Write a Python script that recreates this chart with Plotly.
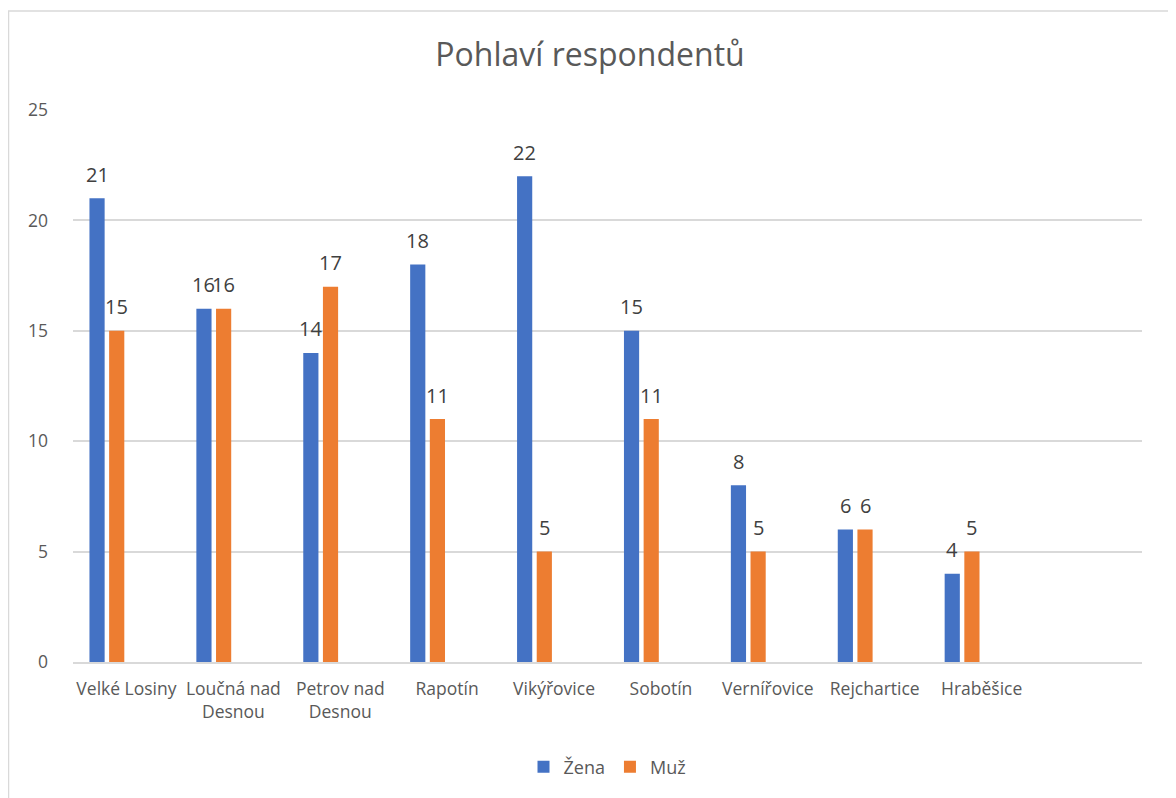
import plotly.graph_objects as go

CATEGORIES = [
    "Velké Losiny",
    "Loučná nad<br>Desnou",
    "Petrov nad<br>Desnou",
    "Rapotín",
    "Vikýřovice",
    "Sobotín",
    "Vernířovice",
    "Rejchartice",
    "Hraběšice",
]
ZENA = [21, 16, 14, 18, 22, 15, 8, 6, 4]
MUZ = [15, 16, 17, 11, 5, 11, 5, 6, 5]

BLUE = "#4472C4"
ORANGE = "#ED7D31"
GREY_TEXT = "#595959"
LABEL_TEXT = "#404040"
FONT = "Open Sans"

BAR_WIDTH = 0.142

# page body adds an ~8px offset, so the figure is sized a bit smaller
W, H = 1168, 790
ML, MR, MT, MB = 65, 34, 102, 136
PW, PH = W - ML - MR, H - MT - MB

fig = go.Figure()
annotations = []
for name, values, color, offset in [
    ("Žena", ZENA, BLUE, -0.346),
    ("Muž", MUZ, ORANGE, -0.162),
]:
    fig.add_bar(
        x=CATEGORIES,
        y=values,
        name=name,
        marker=dict(color=color, line=dict(width=0)),
        offset=offset,
        width=BAR_WIDTH,
    )
    # value labels sit a bit higher than plotly's own outside text
    for i, v in enumerate(values):
        annotations.append(
            dict(
                x=i + offset + BAR_WIDTH / 2,
                y=v,
                xref="x",
                yref="y",
                text=str(v),
                showarrow=False,
                yanchor="middle",
                yshift=24,
                font=dict(family=FONT, size=20, color=LABEL_TEXT),
            )
        )

fig.update_layout(
    width=W,
    height=H,
    barmode="overlay",
    template="plotly_white",
    plot_bgcolor="white",
    paper_bgcolor="white",
    margin=dict(l=ML, r=MR, t=MT, b=MB),
    font=dict(family=FONT, color=GREY_TEXT),
    title=dict(
        text="Pohlaví respondentů",
        x=(590 - 8) / W,
        xanchor="center",
        y=1 - 47 / H,
        yanchor="middle",
        font=dict(family=FONT, size=32, color=GREY_TEXT),
    ),
    legend=dict(
        orientation="h",
        x=0.5,
        xanchor="center",
        y=(H - MB - 759) / PH,
        yanchor="middle",
        font=dict(family=FONT, size=18, color=GREY_TEXT),
        itemwidth=30,
    ),
    annotations=annotations,
    shapes=[
        dict(
            type="rect",
            xref="paper",
            yref="paper",
            x0=(0.5 - ML) / PW,
            x1=(1162 - ML) / PW,
            y0=(H - MB - 810) / PH,
            y1=(H - MB - 3) / PH,
            line=dict(color="#d9d9d9", width=1.5),
            layer="below",
        )
    ],
)
fig.update_xaxes(
    type="category",
    categoryorder="array",
    categoryarray=CATEGORIES,
    range=[-0.5, 9.5],
    showgrid=False,
    showline=True,
    linecolor="#d9d9d9",
    linewidth=1.5,
    ticks="",
    ticklabelstandoff=10,
    tickfont=dict(family=FONT, size=17.5, color=GREY_TEXT),
)
fig.update_yaxes(
    range=[0, 25],
    dtick=5,
    showgrid=True,
    gridcolor="#d9d9d9",
    gridwidth=1.5,
    zeroline=False,
    showline=False,
    ticks="",
    ticklabelstandoff=24,
    tickfont=dict(family=FONT, size=17.5, color=GREY_TEXT),
)

fig.write_html("out.html")
